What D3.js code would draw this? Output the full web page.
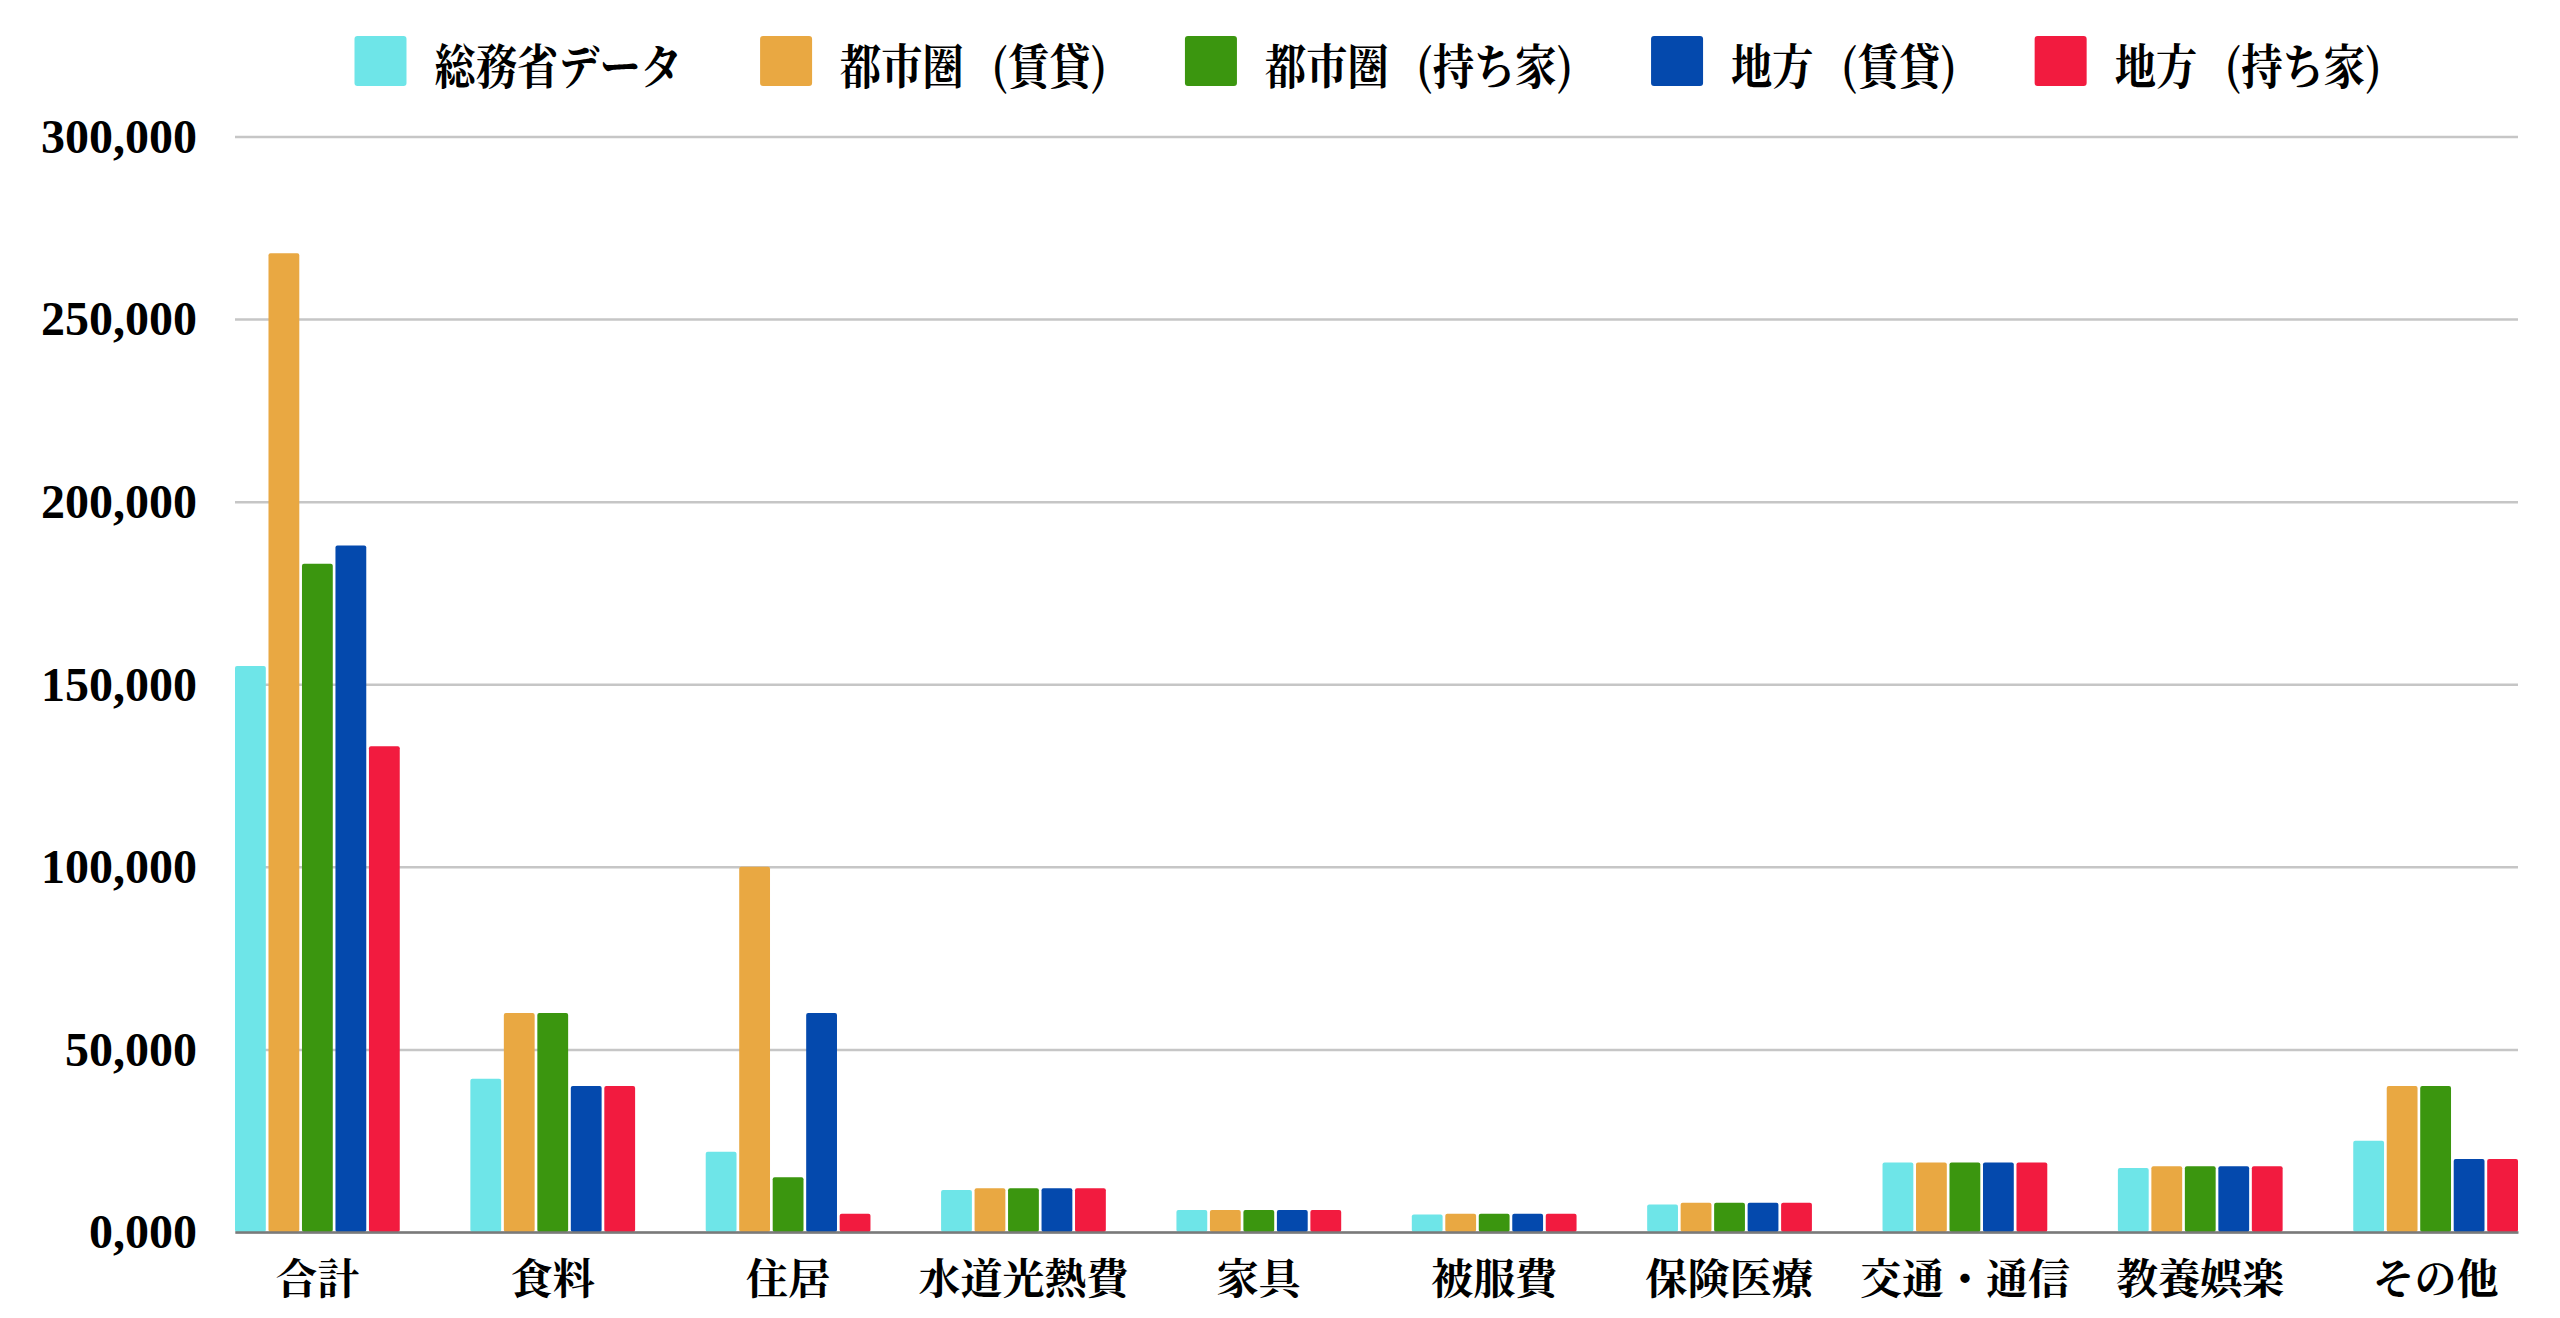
<!DOCTYPE html>
<html>
<head>
<meta charset="utf-8">
<script src="https://cdn.jsdelivr.net/npm/d3@7/dist/d3.min.js"></script>
<style>
  html, body { margin: 0; padding: 0; background: #ffffff; }
  svg { display: block; }
  .ylab { font-family: "Liberation Serif", "DejaVu Serif", serif; font-weight: bold; }
  .cjk { font-family: "Noto Serif CJK JP", "Noto Sans CJK JP", sans-serif; font-weight: bold; }
</style>
</head>
<body>
<svg id="chart" width="2560" height="1318"></svg>
<script>
// ---- data ----
const categories = ["合計", "食料", "住居", "水道光熱費", "家具", "被服費", "保険医療", "交通・通信", "教養娯楽", "その他"];
const seriesNames = ["総務省データ", "都市圏 (賃貸)", "都市圏 (持ち家)", "地方 (賃貸)", "地方 (持ち家)"];
const seriesColors = ["#6ee5e8", "#e9a842", "#3b960f", "#0449ad", "#f21b3f"];
const somushoData   = [155000, 42000, 22000, 11500, 6000, 4800, 7500, 19000, 17500, 25000];
const toshiChintai  = [268000, 60000, 100000, 12000, 6000, 5000, 8000, 19000, 18000, 40000];
const toshiMochiie  = [183000, 60000, 15000, 12000, 6000, 5000, 8000, 19000, 18000, 40000];
const chihoChintai  = [188000, 40000, 60000, 12000, 6000, 5000, 8000, 19000, 18000, 20000];
const chihoMochiie  = [133000, 40000, 5000, 12000, 6000, 5000, 8000, 19000, 18000, 20000];
const seriesValues = [somushoData, toshiChintai, toshiMochiie, chihoChintai, chihoMochiie];
const yTicks = [0, 50000, 100000, 150000, 200000, 250000, 300000];
const yTickLabels = ["0,000", "50,000", "100,000", "150,000", "200,000", "250,000", "300,000"];

// ---- layout ----
const plotLeft = 235, plotRight = 2518, plotTop = 136.5, plotBottom = 1232;
const svg = d3.select("#chart");

const y = d3.scaleLinear().domain([0, 300000]).range([plotBottom, plotTop]);
const x0 = d3.scaleBand().domain(categories).range([plotLeft, plotRight]).paddingInner(0.3).paddingOuter(0);
const x1 = d3.scaleBand().domain(seriesNames).range([0, x0.bandwidth()]).paddingInner(0.08);
const color = d3.scaleOrdinal().domain(seriesNames).range(seriesColors);

// y axis + gridlines
const yAxis = svg.append("g")
  .attr("transform", `translate(${plotLeft},0)`)
  .call(d3.axisLeft(y).tickValues(yTicks)
    .tickFormat((d, i) => yTickLabels[i])
    .tickSize(-(plotRight - plotLeft)).tickPadding(38));
yAxis.select(".domain").remove();
yAxis.selectAll(".tick line").attr("stroke", "#c6c6c6").attr("stroke-width", 2.5);
yAxis.selectAll(".tick text")
  .attr("class", "ylab")
  .attr("font-size", 48)
  .attr("fill", "#000")
  .attr("dy", "0.33em");

// bars
const groups = svg.append("g").selectAll("g")
  .data(categories)
  .join("g")
  .attr("transform", d => `translate(${x0(d)},0)`);

groups.selectAll("rect")
  .data((c, ci) => seriesNames.map((s, si) => ({ s, v: seriesValues[si][ci] })))
  .join("rect")
  .attr("x", d => x1(d.s))
  .attr("width", x1.bandwidth())
  .attr("y", d => y(d.v))
  .attr("height", d => y(0) - y(d.v))
  .attr("rx", 2)
  .attr("fill", d => color(d.s));

// x axis
const xAxis = svg.append("g")
  .attr("transform", `translate(0,${plotBottom})`)
  .call(d3.axisBottom(x0).tickSize(0));
xAxis.select(".domain").attr("stroke", "#7a7a7a").attr("stroke-width", 2.5);
xAxis.selectAll(".tick text")
  .attr("class", "cjk")
  .attr("font-size", 42)
  .attr("fill", "#000")
  .attr("y", 47)
  .attr("dy", "0.35em");

// legend
const legend = svg.append("g");
const legendY = 61, swW = 52, swH = 50, swGap = 28, itemGap = 78, legendCenter = 1368;
const textScale = 0.86;
const items = legend.selectAll("g").data(seriesNames).join("g");
items.append("rect")
  .attr("width", swW).attr("height", swH)
  .attr("y", legendY - swH / 2)
  .attr("rx", 3)
  .attr("fill", d => color(d));
items.append("text")
  .attr("class", "cjk")
  .attr("font-size", 48)
  .attr("fill", "#000")
  .attr("word-spacing", 20)
  .attr("dominant-baseline", "central")
  .attr("transform", `translate(${swW + swGap},${legendY + 2}) scale(${textScale},1)`)
  .text(d => d);
let widths = [];
items.each(function() {
  widths.push(swW + swGap + d3.select(this).select("text").node().getComputedTextLength() * textScale);
});
const total = d3.sum(widths) + itemGap * (widths.length - 1);
let cx = legendCenter - total / 2;
items.attr("transform", (d, i) => {
  const t = `translate(${cx},0)`;
  cx += widths[i] + itemGap;
  return t;
});
</script>
</body>
</html>
